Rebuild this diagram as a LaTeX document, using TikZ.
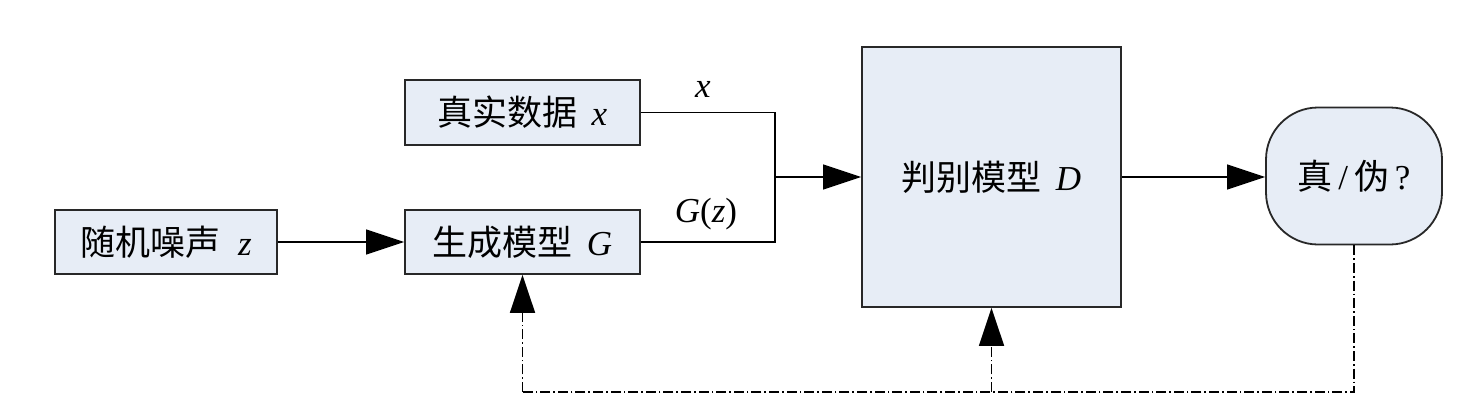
\documentclass[tikz,border=0pt]{standalone}
\usepackage{fontspec}
\setmainfont{Liberation Serif}
\newfontfamily\cjk{Noto Sans CJK SC}
\usetikzlibrary{arrows.meta}
\definecolor{boxfill}{RGB}{231,237,246}
\definecolor{boxline}{RGB}{40,40,40}
\tikzset{
  blockbox/.style={draw=boxline, line width=0.9pt, fill=boxfill, inner sep=0pt,
    font=\fontsize{17.5}{20}\selectfont},
  conn/.style={line width=0.6pt, -{Triangle[length=19pt,width=12.5pt]}},
  plainline/.style={line width=0.6pt},
  feedback/.style={line width=0.85pt, dash pattern=on 5pt off 1.5pt on 0.8pt off 1.5pt},
  lbl/.style={font=\fontsize{17.5}{20}\selectfont, inner sep=0pt, anchor=base}
}
\begin{document}
\begin{tikzpicture}[x=0.5pt,y=-0.5pt]
\useasboundingbox (0,0) rectangle (1472,412);
\fill[white] (0,0) rectangle (1472,412);

\node[blockbox, minimum width=111pt, minimum height=32pt] (noise) at (166,242)
  {{\cjk 随机噪声}\hspace{9pt}\textit{z}};
\node[blockbox, minimum width=117.5pt, minimum height=32pt] (gen) at (522.5,242)
  {{\cjk 生成模型}\hspace{7pt}\textit{G}};
\node[blockbox, minimum width=117.5pt, minimum height=32.5pt] (real) at (522.5,112.5)
  {{\cjk 真实数据}\hspace{7pt}\textit{x}};
\node[blockbox, minimum width=129.5pt, minimum height=130pt] (disc) at (991.5,177)
  {{\cjk 判别模型}\hspace{7pt}\textit{D}};
\node[blockbox, minimum width=88pt, minimum height=68.5pt, rounded corners=26pt] (out) at (1354,176)
  {{\cjk 真}\,/\,{\cjk 伪}\,?};

\coordinate (j) at (775,177);
\coordinate (br) at (1354,392);
\coordinate (bm) at (991.5,392);
\coordinate (bl) at (522.5,392);

\draw[conn] (noise.east) -- (gen.west);
\draw[plainline] (real.east) -| (j);
\draw[plainline] (gen.east) -| (j);
\draw[conn] (j) -- (disc.west);
\draw[conn] (disc.east) -- (out.west |- disc.east);

\draw[feedback] (out.south) -- (br) -- (bl);
\draw[feedback, -{Triangle[length=19pt,width=12.5pt]}] (bl) -- (gen.south);
\draw[feedback, -{Triangle[length=19pt,width=12.5pt]}] (bm) -- (disc.south);

\node[lbl] (lx) at (703,97) {\textit{x}};
\node[lbl] (lgz) at (706,222) {\textit{G}(\textit{z})};
\end{tikzpicture}
\end{document}
